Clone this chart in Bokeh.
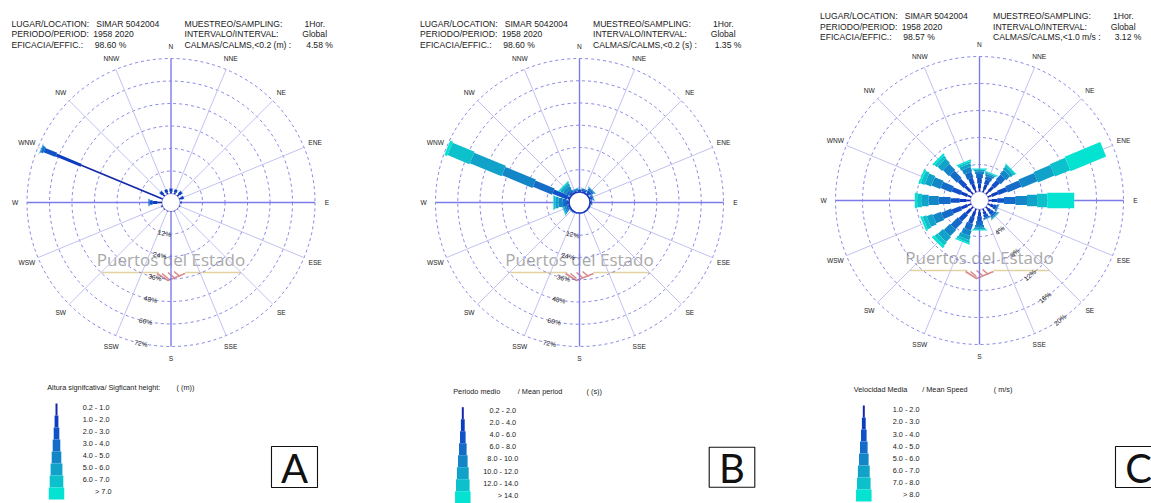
import math
from bokeh.plotting import figure
from bokeh.models import Range1d
from bokeh.embed import file_html
from bokeh.resources import INLINE
from bokeh.core.properties import value

# ---------------- data ----------------
directions = ["N", "NNE", "NE", "ENE", "E", "ESE", "SE", "SSE",
              "S", "SSW", "SW", "WSW", "W", "WNW", "NW", "NNW"]

# Panel A : significant wave height (% per direction, per class)
hs_bins = ["0.2 -  1.0", "1.0 -  2.0", "2.0 -  3.0", "3.0 -  4.0",
           "4.0 -  5.0", "5.0 -  6.0", "6.0 -  7.0", "> 7.0"]
hs_freq = [
    [1.0, 1.6, 0.1, 0, 0, 0, 0, 0],          # N
    [1.0, 1.5, 0.1, 0, 0, 0, 0, 0],          # NNE
    [1.2, 1.8, 0.2, 0, 0, 0, 0, 0],          # NE
    [1.0, 1.4, 0.1, 0, 0, 0, 0, 0],          # ENE
    [0.6, 0.3, 0, 0, 0, 0, 0, 0],            # E
    [0.4, 0.1, 0, 0, 0, 0, 0, 0],            # ESE
    [0.3, 0, 0, 0, 0, 0, 0, 0],              # SE
    [0.3, 0, 0, 0, 0, 0, 0, 0],              # SSE
    [0.3, 0, 0, 0, 0, 0, 0, 0],              # S
    [0.3, 0, 0, 0, 0, 0, 0, 0],              # SSW
    [0.4, 0.1, 0, 0, 0, 0, 0, 0],            # SW
    [0.5, 0.3, 0, 0, 0, 0, 0, 0],            # WSW
    [2.5, 2.5, 1.6, 0.6, 0.1, 0, 0, 0],      # W
    [47.0, 14.4, 6.9, 1.4, 0.4, 0.1, 0.05, 0],  # WNW
    [1.2, 1.8, 0.2, 0, 0, 0, 0, 0],          # NW
    [1.0, 1.6, 0.1, 0, 0, 0, 0, 0],          # NNW
]
hs_rings = [12, 24, 36, 48, 60, 72]

# Panel B : mean period
tm_bins = ["0.2 -  2.0", "2.0 -  4.0", "4.0 -  6.0", "6.0 -  8.0",
           "8.0 - 10.0", "10.0 - 12.0", "12.0 - 14.0", "> 14.0"]
tm_freq = [
    [0.1, 0.4, 0.6, 0.3, 0.1, 0, 0, 0],          # N
    [0.1, 0.5, 0.8, 0.5, 0.2, 0, 0, 0],          # NNE
    [0.2, 0.8, 1.3, 1.0, 0.5, 0.2, 0, 0],        # NE
    [0.2, 0.6, 0.8, 0.5, 0.2, 0, 0, 0],          # ENE
    [0.1, 0.4, 0.5, 0.2, 0, 0, 0, 0],            # E
    [0.1, 0.3, 0.2, 0, 0, 0, 0, 0],              # ESE
    [0.1, 0.2, 0.1, 0, 0, 0, 0, 0],              # SE
    [0.1, 0.2, 0.1, 0, 0, 0, 0, 0],              # SSE
    [0.1, 0.2, 0.1, 0, 0, 0, 0, 0],              # S
    [0.1, 0.2, 0.2, 0, 0, 0, 0, 0],              # SSW
    [0.1, 0.3, 0.3, 0.1, 0, 0, 0, 0],            # SW
    [0.1, 0.2, 0.6, 0.9, 1.0, 0.7, 0.4, 0.1],    # WSW
    [0.1, 0.3, 1.2, 1.8, 2.2, 1.8, 0.8, 0.3],    # W
    [0.1, 1.0, 8.5, 11.2, 17.8, 18.5, 12.8, 1.6],  # WNW
    [0.1, 0.3, 1.0, 1.5, 1.6, 1.4, 0.8, 0.2],    # NW
    [0.1, 0.3, 0.6, 0.5, 0.3, 0.2, 0, 0],        # NNW
]
tm_rings = [12, 24, 36, 48, 60, 72]

# Panel C : mean wind speed
vm_bins = ["1.0 - 2.0", "2.0 - 3.0", "3.0 - 4.0", "4.0 - 5.0",
           "5.0 - 6.0", "6.0 - 7.0", "7.0 - 8.0", "> 8.0"]
vm_freq = [
    [0.5, 0.7, 0.8, 0.6, 0.4, 0.2, 0.1, 0.1],      # N
    [0.5, 0.7, 0.7, 0.5, 0.3, 0.2, 0.1, 0.1],      # NNE
    [0.6, 0.9, 1.1, 1.0, 0.8, 0.5, 0.3, 0.1],      # NE
    [0.6, 1.0, 1.4, 2.2, 2.5, 2.65, 2.45, 5.7],    # ENE
    [0.5, 0.8, 1.0, 1.7, 1.7, 1.5, 1.5, 4.0],      # E
    [0.4, 0.5, 0.4, 0.2, 0.1, 0, 0, 0],            # ESE
    [0.4, 0.5, 0.5, 0.3, 0.2, 0.1, 0, 0],          # SE
    [0.4, 0.5, 0.4, 0.2, 0.1, 0, 0, 0],            # SSE
    [0.4, 0.6, 0.7, 0.6, 0.4, 0.2, 0.1, 0.1],      # S
    [0.5, 0.8, 1.0, 1.0, 0.8, 0.6, 0.4, 0.2],      # SSW
    [0.5, 0.9, 1.3, 1.5, 1.3, 1.0, 0.6, 0.4],      # SW
    [0.6, 1.0, 1.4, 1.6, 1.3, 0.9, 0.6, 0.3],      # WSW
    [0.6, 1.0, 1.36, 1.74, 1.5, 1.0, 0.7, 0.35],   # W
    [0.6, 1.0, 1.4, 1.7, 1.4, 1.0, 0.6, 0.3],      # WNW
    [0.6, 1.0, 1.3, 1.5, 1.3, 0.9, 0.5, 0.3],      # NW
    [0.5, 0.8, 0.9, 0.9, 0.7, 0.5, 0.3, 0.2],      # NNW
]
vm_rings = [4, 8, 12, 16, 20]

hdr_left = ["LUGAR/LOCATION:", "PERIODO/PERIOD:", "EFICACIA/EFFIC.:"]
hdr_right = ["MUESTREO/SAMPLING:", "INTERVALO/INTERVAL:"]
location = "SIMAR 5042004"
period = "1958 2020"
sampling = "1Hor."
interval = "Global"
eff_values = ["98.60 %", "98.60 %", "98.57 %"]
calm_labels = ["CALMAS/CALMS,<0.2 (m)  :", "CALMAS/CALMS,<0.2 (s)  :", "CALMAS/CALMS,<1.0 m/s  :"]
calm_values = ["4.58 %", "1.35 %", "3.12 %"]
legend_titles = [["Altura signifcativa/ Sigficant height:", "( (m))"],
                 ["Periodo medio", "/ Mean period", "( (s))"],
                 ["Velocidad Media", "/ Mean Speed", "( m/s)"]]
panel_letters = ["A", "B", "C"]

# ---------------- style ----------------
class_colors = ["#1428a8", "#0c3cc0", "#1152c8", "#146cc8", "#1386c8",
                "#10a2c8", "#0cc0cc", "#04e2d2"]
legend_widths = [2.0, 3.8, 5.6, 7.6, 9.6, 11.8, 13.6, 15.5]
rose_widths = [1.6, 3.0, 4.6, 6.8, 9.0, 11.4, 13.4, 15.5]
FONT = value("Liberation Sans")
TXT = "#222222"

p = figure(width=1151, height=503, x_range=Range1d(0, 1151), y_range=Range1d(0, 503),
           output_backend="svg", toolbar_location=None, min_border=0,
           x_axis_type=None, y_axis_type=None)
p.grid.visible = False
p.outline_line_color = None
p.background_fill_color = "white"
p.border_fill_color = "white"


def Y(v):
    return 503 - v


def txt(xs, ys, texts, size, align="left", baseline="middle", color=TXT, font=FONT, angle=0):
    p.text(x=xs, y=[Y(v) for v in ys], text=texts, text_font=font,
           text_font_size=size, text_align=align, text_baseline=baseline,
           text_color=color, angle=angle)


def rose(cx, cy, r0, R, rings, lbl_bearing, freq, calm_color, calm_width):
    step = (R - r0) / rings[-1]
    cyd = Y(cy)
    # watermark
    txt([cx], [cy + 57], ["Puertos del Estado"], "17px", align="center",
        color="#a9a9a9", font=value("Open Sans"))
    p.line([cx - 70, cx - 12], [Y(cy + 70)] * 2, line_color="#e2d2a2", line_width=1.3)
    p.line([cx + 14, cx + 70], [Y(cy + 70)] * 2, line_color="#e2d2a2", line_width=1.3)
    p.multi_line(xs=[[cx - 14, cx - 3, cx + 14], [cx - 9, cx - 3], [cx - 3, cx + 3], [cx + 3, cx + 9]],
                 ys=[[Y(cy + 71), Y(cy + 78), Y(cy + 71)], [Y(cy + 71), Y(cy + 76)],
                     [Y(cy + 70), Y(cy + 75)], [Y(cy + 69), Y(cy + 74)]],
                 line_color="#d98a8a", line_width=1.6)
    # rings
    radii = [r0 + v * step for v in rings]
    p.circle(x=[cx] * len(radii), y=[cyd] * len(radii), radius=radii,
             fill_color=None, line_color="#5656de", line_dash="3 3",
             line_width=0.9, line_alpha=0.8)
    # spokes
    x0, y0, x1, y1, cols, wids = [], [], [], [], [], []
    for i in range(16):
        b = math.radians(i * 22.5)
        x0.append(cx + r0 * math.sin(b)); y0.append(cyd + r0 * math.cos(b))
        x1.append(cx + R * math.sin(b)); y1.append(cyd + R * math.cos(b))
        cols.append("#7b7bea" if i % 4 == 0 else "#c2c2f2")
        wids.append(1.4 if i % 4 == 0 else 1.0)
    p.segment(x0=x0, y0=y0, x1=x1, y1=y1, line_color=cols, line_width=wids)
    # calm circle
    p.circle(x=[cx], y=[cyd], radius=r0, fill_color="white",
             line_color=calm_color, line_width=calm_width)
    # bars
    xs, ys, lens, hs, angs, fc = [], [], [], [], [], []
    for i, row in enumerate(freq):
        b = math.radians(i * 22.5)
        cum = 0.0
        for k, v in enumerate(row):
            if v <= 0:
                continue
            ri = r0 + cum * step
            cum += v
            ro = r0 + cum * step
            rm = (ri + ro) / 2
            xs.append(cx + rm * math.sin(b)); ys.append(cyd + rm * math.cos(b))
            lens.append(ro - ri); hs.append(rose_widths[k])
            angs.append(math.pi / 2 - b); fc.append(class_colors[k])
    p.rect(x=xs, y=ys, width=lens, height=hs, angle=angs, fill_color=fc, line_color=None)
    # compass labels
    lx, ly = [], []
    for i in range(16):
        b = math.radians(i * 22.5)
        lx.append(cx + 156 * math.sin(b)); ly.append(cy - 156 * math.cos(b))
    txt(lx, ly, directions, "6.6px", align="center")
    # ring labels
    bb = math.radians(lbl_bearing)
    rx = [cx + r * math.sin(bb) for r in radii]
    ry = [cy - r * math.cos(bb) for r in radii]
    ang = -(bb - math.pi) if lbl_bearing > 180 else (math.pi - bb) + 0.12
    txt(rx, ry, [f"{v}%" for v in rings], "6.8px", align="center", angle=ang)


def header(x0, y0, idx):
    rows = [y0, y0 + 10.4, y0 + 20.7]
    txt([x0] * 3, rows, hdr_left, "8.6px")
    txt([x0 + 84.7, x0 + 81.7, x0 + 83.3], rows, [location, period, eff_values[idx]], "8.6px")
    txt([x0 + 173] * 3, rows, hdr_right + [calm_labels[idx]], "8.6px")
    txt([x0 + 293, x0 + 290.7, x0 + 294.7], rows, [sampling, interval, calm_values[idx]], "8.6px")


def legend(bx, top, lab_x, lab_y, bins, title_x, title_y, titles):
    bxs, bys, bw, bh = [], [], [], []
    for k in range(len(bins)):
        bxs.append(bx); bys.append(Y(top + 12 * k + 6))
        bw.append(legend_widths[k]); bh.append(12)
    p.rect(x=bxs, y=bys, width=bw, height=bh, fill_color=class_colors,
           line_color=None)
    txt([lab_x] * len(bins), [lab_y + 12.1 * k for k in range(len(bins))], bins,
        "7.3px", align="right")
    txt(title_x, [title_y] * len(titles), titles, "7.3px")


def letter_box(x0, y0, x1, y1, letter):
    p.quad(left=[x0], right=[x1], bottom=[Y(y1)], top=[Y(y0)], fill_color=None,
           line_color="#111111", line_width=1.1)
    txt([(x0 + 46 / 2) if x1 > 1151 else (x0 + x1) / 2], [(y0 + y1) / 2 + 1], [letter], "40px",
        align="center", baseline="middle", color="#111111",
        font=value("DejaVu Sans ExtraLight, Lato"))


# panel A
rose(170.5, 202, 9, 144, hs_rings, 192, hs_freq, "#a0a0e6", 1.0)
header(11, 23.3, 0)
legend(56, 403, 111, 406.5, hs_bins, [46.7, 176], 386.7, legend_titles[0])
letter_box(271, 446, 317, 487, panel_letters[0])

# panel B
rose(579, 202, 10.5, 144, tm_rings, 192, tm_freq, "#2038c0", 1.5)
header(419.5, 23.3, 1)
legend(462.3, 406.7, 517.7, 410, tm_bins, [452.7, 517.3, 586], 390.7, legend_titles[1])
letter_box(708.7, 446.7, 754.3, 486.7, panel_letters[1])

# panel C
rose(979, 200, 9, 144, vm_rings, 146, vm_freq, "#a0a0e6", 1.0)
header(819.5, 15.7, 2)
legend(863.3, 405, 919, 409.3, vm_bins, [853.3, 921.7, 993.3], 389.3, legend_titles[2])
letter_box(1115, 446, 1161, 487, panel_letters[2])

open("out.html", "w").write(file_html(p, INLINE))
